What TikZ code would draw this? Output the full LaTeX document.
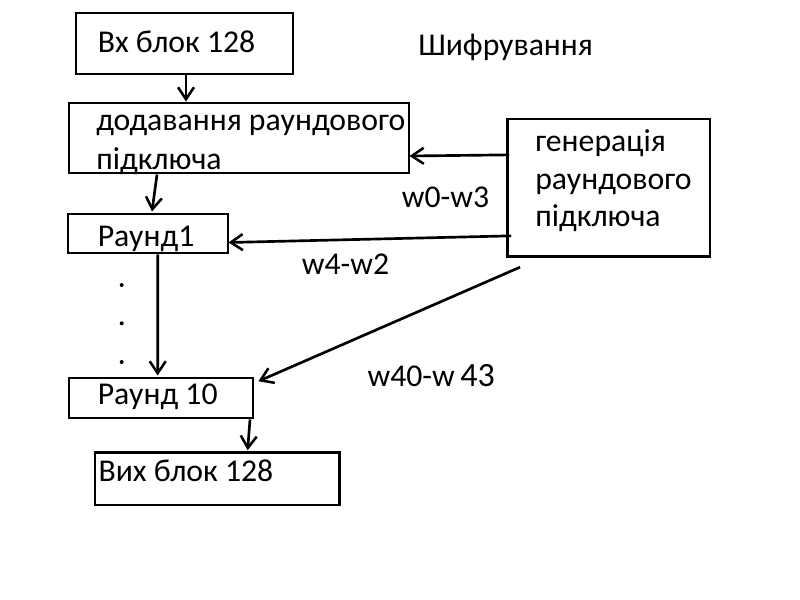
\documentclass[tikz,border=0pt]{standalone}
\usepackage{fontspec}
\setmainfont{Carlito}
\usetikzlibrary{arrows.meta,fit}
\begin{document}
\begin{tikzpicture}[x=0.75pt,y=-0.75pt,
  box/.style={draw,line width=2.2pt,inner sep=0pt,rectangle},
  txt/.style={anchor=base west,inner sep=0pt,font=\fontsize{23.8}{28}\selectfont},
  arr/.style={line width=2pt,-{Straight Barb[length=9pt,width=12pt,line width=1.9pt]}},
  ln/.style={line width=2pt}]
\def\u{0.75pt}
\useasboundingbox (0,0) rectangle (800,600);
% boxes
\node[box,fit={(76,13)(293,74)}] (in) {};
\node[box,fit={(69,103)(409,173)}] (add) {};
\node[box,fit={(507.7,119)(710,256.7)}] (gen) {};
\node[box,fit={(68,214)(228,253)}] (r1) {};
\node[box,fit={(69,378)(253,418)}] (r10) {};
\node[box,fit={(95,452.7)(339.3,505)}] (out) {};
% texts
\node[txt] (tin) at (97.5,52) {Вх блок 128};
\node[txt] (title) at (418,55.5) {Шифрування};
\node[txt] (tadd1) at (96,130) {додавання раундового};
\node[txt] (tadd2) at (96,169) {підключа};
\node[txt] (tgen1) at (535,151.7) {генерація};
\node[txt] (tgen2) at (535,189) {раундового};
\node[txt] (tgen3) at (535,226.7) {підключа};
\node[txt] (tr1) at (97.5,246.7) {Раунд1};
\node[txt] (tr10) at (97.5,404.3) {Раунд 10};
\node[txt] (tout) at (98.3,481.7) {Вих блок 128};
\node[txt] (w03) at (401.7,207) {w0-w3};
\node[txt] (w42) at (301.7,274) {w4-w2};
\node[txt] (w40) at (367.3,386) {w40-w};
\node[txt,font=\fontsize{25.5}{30}\selectfont] (w43) at (460,386) {43};
% dots
\foreach \yy/\nm in {285/d1,323.3/d2,362/d3}
  \fill (121.7,\yy) circle[radius=2] coordinate (\nm);
% connectors
\draw[arr] ([xshift=1.5*\u]in.south) -- ([xshift=-53*\u]add.north);
\draw[arr] ([xshift=3*\u,yshift=33*\u]gen.west) -- ([xshift=-1*\u,yshift=-18*\u]add.east);
\draw[arr] ([xshift=-82*\u]add.south) -- ([xshift=4*\u,yshift=1*\u]r1.north);
\draw[arr] ([xshift=5*\u,yshift=-48*\u]gen.west) -- ([xshift=-1*\u,yshift=-9*\u]r1.east);
\draw[arr] ([xshift=9.7*\u]r1.south) -- ([xshift=-3.3*\u,yshift=1*\u]r10.north);
\draw[arr] ([xshift=-88.8*\u,yshift=-9*\u]gen.south) -- ([xshift=4*\u,yshift=-4.7*\u]r10.north east);
\draw[arr] ([xshift=89*\u]r10.south) -- ([xshift=30.5*\u,yshift=1*\u]out.north);
\end{tikzpicture}
\end{document}
